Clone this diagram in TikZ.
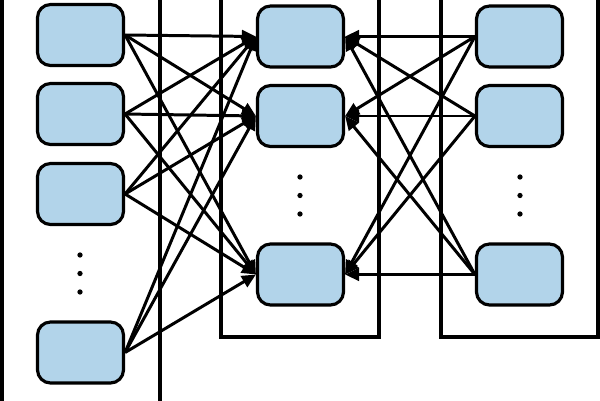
\documentclass[tikz,border=0pt]{standalone}
\usetikzlibrary{arrows.meta}
\definecolor{boxblue}{RGB}{178,212,234}
\begin{document}
\begin{tikzpicture}[x=0.02cm,y=-0.02cm,
  box/.style={draw=black,fill=boxblue,line width=1.8pt,rounded corners=0.26cm,
    minimum width=1.72cm,minimum height=1.22cm,inner sep=0pt},
  frame/.style={draw=black,line width=1.8pt},
  arr/.style={line width=1.7pt,-{Triangle[length=0.28cm,width=0.25cm]}},
  dot/.style={circle,fill=black,inner sep=0pt,minimum size=3pt}]
\useasboundingbox (0,0) rectangle (600,400);
\clip (0,0) rectangle (600,400);
% frames
\draw[frame] (2,-10) -- (2,410);
\draw[frame] (160,-10) -- (160,410);
\draw[frame] (221,-10) -- (221,337) -- (379,337) -- (379,-10);
\draw[frame] (441,-10) -- (441,337) -- (598,337) -- (598,-10);
% left column
\node[box] (L1) at (80.5,35) {};
\node[box] (L2) at (80.5,114) {};
\node[box] (L3) at (80.5,194) {};
\node[box] (L4) at (80.5,352.5) {};
\node[dot] (ld1) at (80,255) {};
\node[dot] (ld2) at (80,273.5) {};
\node[dot] (ld3) at (80,292) {};
% middle column
\node[box] (M1) at (300.5,36.5) {};
\node[box] (M2) at (300.5,116) {};
\node[box] (M3) at (300.5,274.5) {};
\node[dot] (md1) at (300,177) {};
\node[dot] (md2) at (300,195.5) {};
\node[dot] (md3) at (300,214) {};
% right column
\node[box] (R1) at (519.5,36.5) {};
\node[box] (R2) at (519.5,116) {};
\node[box] (R3) at (519.5,274.5) {};
\node[dot] (rd1) at (520,177) {};
\node[dot] (rd2) at (520,195.5) {};
\node[dot] (rd3) at (520,214) {};
% connectors
\foreach \l in {L1,L2,L3,L4}{
  \foreach \m in {M1,M2,M3}{
    \draw[arr] (\l.east) -- (\m.west);
  }
}
\foreach \r in {R1,R2,R3}{
  \foreach \m in {M1,M2,M3}{
    \draw[arr] (\r.west) -- (\m.east);
  }
}
\end{tikzpicture}
\end{document}
